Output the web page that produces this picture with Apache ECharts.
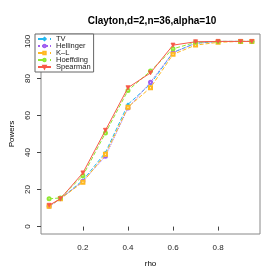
<!DOCTYPE html>
<html><head><meta charset="utf-8">
<script src="https://cdn.jsdelivr.net/npm/echarts@6/dist/echarts.min.js"></script>
<style>html,body{margin:0;padding:0;background:#fff}#c{width:278px;height:278px}</style>
</head><body><div id="c"></div>
<script>
const rho = [0.05, 0.1, 0.2, 0.3, 0.4, 0.5, 0.6, 0.7, 0.8, 0.9, 0.95];
const tv        = [11, 15, 25, 40, 66, 77, 94, 99, 100, 100, 100];
const hellinger = [11, 15, 24.5, 38, 64, 78, 94, 99, 100, 100, 100];
const kl        = [11, 15, 24, 39, 64.5, 75, 93, 98, 99.5, 100, 100];
const hoeffding = [15, 15.5, 27.5, 50.5, 73.5, 84, 96, 99.5, 100, 100, 100];
const spearman  = [11.5, 15, 29, 52, 75, 83, 98, 99.8, 100, 100, 100];
const xTicks = [0.2, 0.4, 0.6, 0.8];
const yTicks = [0, 20, 40, 60, 80, 100];
const names = ['TV', 'Hellinger', 'K\u2013L', 'Hoeffding', 'Spearman'];
const values = [tv, hellinger, kl, hoeffding, spearman];
const colors = ['#22b8f0', '#a060f0', '#ffb820', '#90e830', '#f85848'];
const lineTypes = ['dashed', 'dotted', 'dashed', 'dashed', 'solid'];
const symbols = ['diamond', 'emptyCircle', 'emptyRect', 'emptyCircle', 'triangle'];
const font = 'Liberation Sans, Arial, sans-serif';

const chart = echarts.init(document.getElementById('c'), null, {renderer: 'canvas'});
chart.setOption({
  animation: false,
  backgroundColor: '#fff',
  title: {
    text: 'Clayton,d=2,n=36,alpha=10',
    left: 147, top: 11, textAlign: 'center',
    textStyle: {fontFamily: font, fontSize: 10, fontWeight: 'bold', color: '#000'}
  },
  grid: {left: 35, right: 18, top: 34, bottom: 44, show: true, borderColor: '#888', borderWidth: 1, backgroundColor: 'transparent'},
  legend: {
    left: 35, top: 34, orient: 'vertical',
    itemWidth: 13, itemHeight: 3, itemGap: -1,
    padding: [1, 3, 1, 2],
    borderColor: '#666', borderWidth: 1, borderRadius: 0,
    backgroundColor: '#fff',
    textStyle: {fontFamily: font, fontSize: 7.5, color: '#222', padding: [0, 0, 0, 0]},
    data: names
  },
  xAxis: {
    type: 'value', min: 0.014, max: 0.986,
    name: 'rho', nameLocation: 'middle', nameGap: 26,
    nameTextStyle: {fontFamily: font, fontSize: 8, color: '#000'},
    axisLine: {show: false},
    axisTick: {show: true, length: 4, customValues: xTicks, lineStyle: {color: '#444'}},
    axisLabel: {customValues: xTicks, margin: 10, fontFamily: font, fontSize: 8, color: '#222'},
    splitLine: {show: false}
  },
  yAxis: {
    type: 'value', min: -4, max: 104,
    name: 'Powers', nameLocation: 'middle', nameGap: 25,
    nameTextStyle: {fontFamily: font, fontSize: 8, color: '#000'},
    axisLine: {show: false},
    axisTick: {show: true, length: 4, customValues: yTicks, lineStyle: {color: '#444'}},
    axisLabel: {customValues: yTicks, rotate: 90, margin: 9, fontFamily: font, fontSize: 8, color: '#222'},
    splitLine: {show: false}
  },
  series: names.map((n, i) => ({
    name: n, type: 'line',
    data: rho.map((x, j) => [x, values[i][j]]),
    symbol: symbols[i], symbolSize: i === 4 ? 4 : 3,
    showSymbol: true,
    lineStyle: {color: colors[i], width: 1, type: lineTypes[i]},
    itemStyle: {color: colors[i], borderColor: colors[i], borderWidth: 0.8},
    symbolRotate: i === 4 ? 180 : 0,
    emphasis: {disabled: true},
    z: 2 + i
  }))
});
</script></body></html>
